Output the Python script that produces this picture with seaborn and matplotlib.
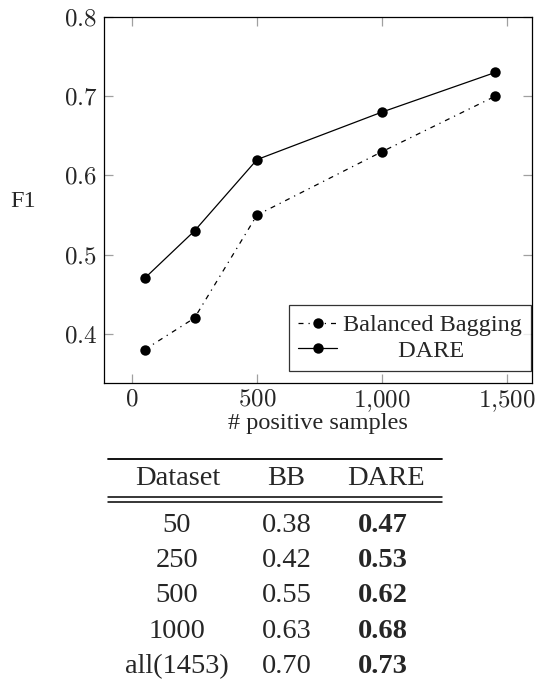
import numpy as np
import pandas as pd
import seaborn as sns
import matplotlib.pyplot as plt
from matplotlib.lines import Line2D
from matplotlib.ticker import FuncFormatter

# data
n_samples = [50, 250, 500, 1000, 1453]
bb_f1 = [0.38, 0.42, 0.55, 0.63, 0.70]
dare_f1 = [0.47, 0.53, 0.62, 0.68, 0.73]
methods = ["Balanced Bagging", "DARE"]

table_head = ["Dataset", "BB", "DARE"]
table_sets = ["50", "250", "500", "1000", "all(1453)"]

sns.set_style("ticks")
plt.rcParams['font.family'] = ['Liberation Serif', 'DejaVu Serif']
plt.rcParams['mathtext.fontset'] = 'cm'

W, H = 535, 679
fig = plt.figure(figsize=(W / 100, H / 100), dpi=100)
# axes box in pixels: left 104, right 532, top 17, bottom 383
ax = fig.add_axes([104 / W, 1 - 383 / H, (532 - 104) / W, (383 - 17) / H])

df = pd.DataFrame({
    'n': n_samples * 2,
    'F1': bb_f1 + dare_f1,
    'method': [methods[0]] * len(n_samples) + [methods[1]] * len(n_samples),
})

sns.lineplot(data=df, x='n', y='F1', style='method', style_order=methods,
             markers={methods[0]: 'o', methods[1]: 'o'},
             dashes={methods[0]: (4, 4, 1, 4), methods[1]: ''},
             color='black', markersize=7.5, linewidth=0.9,
             markeredgewidth=0, ax=ax)

ax.set_xlim(-112, 1600)
ax.set_ylim(0.338, 0.8)
ax.set_xticks([0, 500, 1000, 1500])
ax.set_yticks([0.4, 0.5, 0.6, 0.7, 0.8])
ax.xaxis.set_major_formatter(FuncFormatter(lambda v, p: '$' + f'{int(v):,}'.replace(',', '{,}') + '$'))
ax.yaxis.set_major_formatter(FuncFormatter(lambda v, p: f'${v:.1f}$'))
ax.tick_params(direction='in', length=6.5, width=0.9, color='#a0a0a0',
               labelsize=18, top=True, right=True, pad=5)
ax.tick_params(axis='x', pad=4)
for sp in ax.spines.values():
    sp.set_color('black')
    sp.set_linewidth(0.9)

ax.set_xlabel('# positive samples', fontsize=17.5, labelpad=-0.5)
ax.set_ylabel('F1', fontsize=17.5, rotation=0, va='center', ha='center')
ax.yaxis.set_label_coords(-0.188, 0.495)

# legend: DARE label sits centred under the longer entry, as in the original
handles, labels = ax.get_legend_handles_labels()
labels = [labels[0], ' ' * 9 + labels[1]]
leg = ax.legend(handles, labels, loc='lower right', bbox_to_anchor=(0.998, 0.033),
                borderaxespad=0, fontsize=17.5, frameon=True, fancybox=False,
                edgecolor='black', handlelength=1.6, handletextpad=0.25,
                labelspacing=0.15, borderpad=0.38)
leg.get_frame().set_linewidth(0.9)

# table below the plot
def fy(py):
    return 1 - py / H

def rule(py, lw):
    fig.add_artist(Line2D([108 / W, 442 / W], [fy(py), fy(py)], color='black', lw=lw))

rule(459, 1.3)
rule(497, 1.1)
rule(501.5, 1.1)

fs = 20.5
head_x = [178, 286, 386]
for x, t in zip(head_x, table_head):
    fig.text(x / W, fy(485), t, ha='center', va='baseline', fontsize=fs)

row_base = [531.5, 567, 602, 638, 673]
for i, y in enumerate(row_base):
    fig.text(177 / W, fy(y), table_sets[i], ha='center', va='baseline', fontsize=fs)
    fig.text(287 / W, fy(y), f'{bb_f1[i]:.2f}', ha='center', va='baseline', fontsize=fs)
    fig.text(383 / W, fy(y), f'{dare_f1[i]:.2f}', ha='center', va='baseline',
             fontsize=fs, fontweight='bold')

fig.savefig('out.png', dpi=100)
